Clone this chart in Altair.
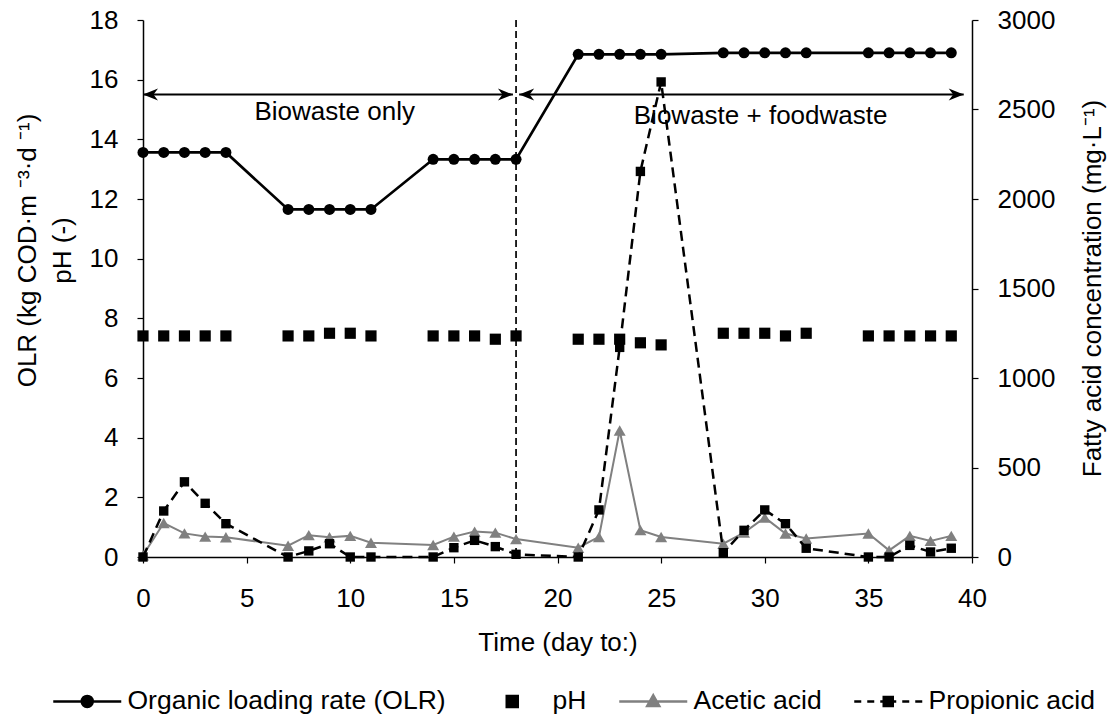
import altair as alt
import pandas as pd

# ---- data ----
days = [0, 1, 2, 3, 4, 7, 8, 9, 10, 11, 14, 15, 16, 17, 18,
        21, 22, 23, 24, 25, 28, 29, 30, 31, 32, 35, 36, 37, 38, 39]
olr = [13.56, 13.56, 13.56, 13.56, 13.56, 11.65, 11.65, 11.65, 11.65, 11.65,
       13.33, 13.33, 13.33, 13.33, 13.33, 16.85, 16.85, 16.85, 16.85, 16.85,
       16.9, 16.9, 16.9, 16.9, 16.9, 16.9, 16.9, 16.9, 16.9, 16.9]
ph = [7.41, 7.41, 7.41, 7.41, 7.41, 7.41, 7.41, 7.5, 7.5, 7.41,
      7.41, 7.41, 7.41, 7.3, 7.41, 7.3, 7.3, 7.3, 7.18, 7.11,
      7.5, 7.5, 7.5, 7.41, 7.5, 7.41, 7.41, 7.41, 7.41, 7.41]
acetic = [10, 190, 132, 114, 110, 63, 122, 110, 118, 80,
          67, 114, 142, 136, 100, 52, 112, 707, 150, 112,
          74, 136, 220, 131, 103, 131, 37, 118, 90, 118]
propionic = [0, 257, 420, 300, 186, 0, 34, 74, 0, 0,
             0, 52, 93, 58, 15, 0, 263, 1171, 2154, 2654,
             24, 149, 263, 186, 49, 0, 0, 65, 28, 49]

x_ticks = [0, 5, 10, 15, 20, 25, 30, 35, 40]
left_ticks = [0, 2, 4, 6, 8, 10, 12, 14, 16, 18]
right_ticks = [0, 500, 1000, 1500, 2000, 2500, 3000]

switch_day = [18]
phase_start = [0, 18.15]
phase_end = [17.85, 39.6]
arrow_level = [15.5, 15.5]
phase_labels = ["Biowaste only", "Biowaste + foodwaste"]
label_day = [9.25, 29.8]
label_level = [14.9, 14.77]

legend_names = ["Organic loading rate (OLR)", "pH", "Acetic acid", "Propionic acid"]

# ---- styling ----
FONT = "Liberation Sans"
FS = 26
GREY = "#808080"

LEFT_HEAD = "M0,0L2,-0.8L1.4,0L2,0.8Z"
RIGHT_HEAD = "M0,0L-2,-0.8L-1.4,0L-2,0.8Z"

# legend symbols: every path spans the same width so entries are evenly laid out
legend_paths = [
    "M-6.8,0L6.8,0M-1.1,0A1.1,1.1,0,1,1,1.1,0A1.1,1.1,0,1,1,-1.1,0Z",
    "M-6.8,0M6.8,0M-1.1,-1.1H1.1V1.1H-1.1Z",
    "M-6.8,0L6.8,0M0,-1.2L1.2,0.9L-1.2,0.9Z",
    "M-6.8,0L-5.4,0M-4.2,0L-2.8,0M-1.6,0L1.6,0M2.8,0L4.2,0M5.4,0L6.8,0M-0.9,-0.9H0.9V0.9H-0.9Z",
]
legend_colors = ["black", "black", GREY, "black"]

df = pd.DataFrame({"day": days, "olr": olr, "ph": ph,
                   "acetic": acetic, "propionic": propionic})
arrows = pd.DataFrame({"start": phase_start, "end": phase_end, "level": arrow_level})
labels = pd.DataFrame({"label": phase_labels, "lday": label_day, "llevel": label_level})
switch = pd.DataFrame({"day": switch_day})
leg_df = pd.DataFrame({"series": legend_names})

x_axis = alt.Axis(values=x_ticks, title="Time (day to:)", tickSize=6, labelPadding=22,
                  labelFlush=False, titleY=93, titleBaseline="alphabetic")
x_scale = alt.Scale(domain=[0, 40], nice=False, zero=False)
ls = alt.Scale(domain=[0, 18], nice=False)
rs = alt.Scale(domain=[0, 3000], nice=False)

left_axis = alt.Axis(values=left_ticks, orient="left", tickSize=6, labelPadding=19,
                     labelFlush=False,
                     title=["OLR (kg COD·m ⁻³·d ⁻¹)", "pH (-)"],
                     titleAngle=270, titleX=-108, titleY=230, titleAlign="center",
                     titleBaseline="alphabetic", titleLineHeight=35)
right_axis = alt.Axis(values=right_ticks, orient="right", tickSize=6, labelPadding=19,
                      labelFlush=False, format="d",
                      title="Fatty acid concentration (mg·L⁻¹)",
                      titleAngle=270, titleX=128, titleY=268, titleAlign="center",
                      titleBaseline="alphabetic")


def X(field):
    return alt.X(field, scale=x_scale, axis=x_axis)


def YL(field):
    return alt.Y(field, scale=ls, axis=left_axis)


def YR(field):
    return alt.Y(field, scale=rs, axis=right_axis)


base = alt.Chart(df)

switch_rule = alt.Chart(switch).mark_rule(color="black", strokeWidth=1.7, strokeDash=[7, 4]).encode(
    x=X("day:Q"))
shaft = alt.Chart(arrows).mark_rule(color="black", strokeWidth=2).encode(
    x=X("start:Q"), x2="end:Q", y=YL("level:Q"))
lheads = alt.Chart(arrows).mark_point(shape=LEFT_HEAD, filled=True, size=225, color="black",
                                      opacity=1).encode(x=X("start:Q"), y=YL("level:Q"))
rheads = alt.Chart(arrows).mark_point(shape=RIGHT_HEAD, filled=True, size=225, color="black",
                                      opacity=1).encode(x=X("end:Q"), y=YL("level:Q"))
texts = alt.Chart(labels).mark_text(font=FONT, fontSize=FS, color="black", align="center",
                                    baseline="middle").encode(
    x=X("lday:Q"), y=YL("llevel:Q"), text="label:N")

olr_line = base.mark_line(color="black", strokeWidth=2.7).encode(x=X("day:Q"), y=YL("olr:Q"))
olr_pts = base.mark_point(shape="circle", filled=True, size=121, color="black", opacity=1).encode(
    x=X("day:Q"), y=YL("olr:Q"))
ph_pts = base.mark_point(shape="square", filled=True, size=125, color="black", opacity=1).encode(
    x=X("day:Q"), y=YL("ph:Q"))

leg = alt.Legend(title=None, orient="none", legendX=-69, legendY=668, direction="horizontal",
                 labelFont=FONT, labelFontSize=26.5, labelColor="black", labelLimit=600,
                 symbolSize=100, symbolStrokeWidth=2.5, labelOffset=27, columnPadding=27,
                 padding=0)
legend_layer = alt.Chart(leg_df).mark_point(filled=True, opacity=1).encode(
    shape=alt.Shape("series:N", scale=alt.Scale(domain=legend_names, range=legend_paths), legend=leg),
    fill=alt.Fill("series:N", scale=alt.Scale(domain=legend_names, range=legend_colors), legend=leg),
    stroke=alt.Stroke("series:N", scale=alt.Scale(domain=legend_names, range=legend_colors), legend=leg),
).transform_filter("false")

acetic_line = base.mark_line(color=GREY, strokeWidth=2).encode(x=X("day:Q"), y=YR("acetic:Q"))
acetic_pts = base.mark_point(shape="triangle-up", filled=True, size=144, color=GREY, opacity=1).encode(
    x=X("day:Q"), y=YR("acetic:Q"))
prop_line = base.mark_line(color="black", strokeWidth=2.5, strokeDash=[10, 6]).encode(
    x=X("day:Q"), y=YR("propionic:Q"))
prop_pts = base.mark_point(shape="square", filled=True, size=88, color="black", opacity=1).encode(
    x=X("day:Q"), y=YR("propionic:Q"))

left = alt.layer(switch_rule, shaft, lheads, rheads, texts, olr_line, olr_pts, ph_pts, legend_layer)
right = alt.layer(acetic_line, acetic_pts, prop_line, prop_pts)

chart = alt.layer(left, right).resolve_scale(y="independent").properties(
    width=829, height=537,
    autosize=alt.AutoSizeParams(type="none"),
    padding={"left": 143, "top": 20, "right": 141, "bottom": 160},
).configure(font=FONT).configure_view(stroke=None).configure_axis(
    labelFont=FONT, titleFont=FONT, labelFontSize=FS, titleFontSize=FS,
    titleFontWeight="normal", labelColor="black", titleColor="black",
    domainColor="black", tickColor="black", domainWidth=1.5, tickWidth=1.2,
    grid=False, labelOverlap=False,
)

chart.save("out.html", embed_options={"renderer": "svg", "actions": False})
